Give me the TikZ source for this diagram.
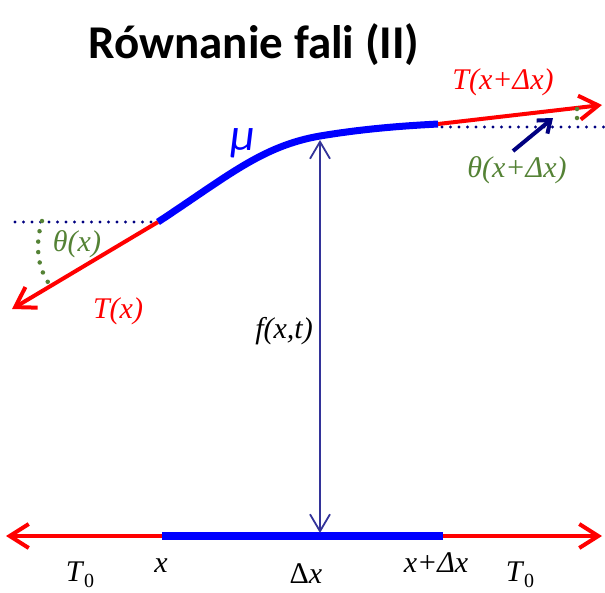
\documentclass[tikz,border=0pt]{standalone}
\usepackage{fontspec}
\setmainfont{Liberation Serif}
\newfontfamily\titlefont{Carlito}
\usetikzlibrary{arrows.meta}
\definecolor{myred}{RGB}{255,0,0}
\definecolor{myblue}{RGB}{0,0,255}
\definecolor{mynavy}{RGB}{0,0,128}
\definecolor{myslate}{RGB}{51,51,153}
\definecolor{mygreen}{RGB}{84,130,53}
\begin{document}
\begin{tikzpicture}[x=1pt,y=-1pt,
  forcearrow/.style={myred,line width=4pt,-{Straight Barb[length=19pt,width=24pt]}},
  stringline/.style={myblue,line width=7pt},
  levelline/.style={mynavy,line width=3.2pt,line cap=round,dash pattern=on 0pt off 8.5pt},
  angleline/.style={mygreen,line width=4.5pt,line cap=round,dash pattern=on 0pt off 10.5pt},
  lbl/.style={font=\fontsize{30}{32}\selectfont, anchor=base, inner sep=0pt},
]
\useasboundingbox (0,0) rectangle (605,592);

% title
\node[anchor=base, inner sep=0pt, font=\titlefont\bfseries\fontsize{47}{50}\selectfont] (title) at (254,58) {Równanie fali (II)};

% key points
\coordinate (L) at (158,222);
\coordinate (R) at (438,124);
\coordinate (LT) at (12,309);
\coordinate (RT) at (602,105);
\coordinate (Ldot0) at (15,222);
\coordinate (Rdot1) at (604,127);
\coordinate (Rdot0) at (442,127);

% forces on the curved string
\draw[forcearrow] (L) -- (LT);
\draw[forcearrow] (R) -- (RT);

% curved string element
\draw[stringline] (L) .. controls (228,176) and (262,146) .. (320,136)
                      .. controls (362,129) and (400,126) .. (R);

% horizontal reference lines
\draw[levelline] (Ldot0) -- (L);
\draw[levelline] (Rdot0) -- (Rdot1);

% angles
\coordinate (ga) at (42,221);
\coordinate (gb) at (50,285);
\draw[angleline] (ga) .. controls (35,244) and (37,268) .. (gb);
\coordinate (gc) at (577,109);
\coordinate (gd) at (577,127);
\draw[angleline, dash pattern=on 0pt off 9pt] (gc) -- (gd);

% small navy pointer
\coordinate (n1) at (513,151);
\coordinate (n2) at (553,118);
\draw[mynavy,line width=4pt,-{Straight Barb[length=11pt,width=17pt]}] (n1) -- (n2);

% bottom straight string
\coordinate (B0) at (6,536);
\coordinate (B1) at (162,536);
\coordinate (B2) at (443,536);
\coordinate (B3) at (602,536);
\draw[forcearrow] (B1) -- (B0);
\draw[forcearrow] (B2) -- (B3);
\draw[myblue,line width=7.5pt] (B1) -- (B2);

% displacement arrow
\coordinate (vt) at (320,140);
\coordinate (vb) at (320,533);
\draw[myslate,line width=1.8pt,{Straight Barb[length=17pt,width=20pt]}-{Straight Barb[length=17pt,width=20pt]}] (vt) -- (vb);

% labels
\node[lbl, text=mygreen] (thx) at (77,251) {\itshape θ(x)};
\node[lbl, text=myred] (tx) at (118,318) {\itshape T(x)};
\node[anchor=base, inner sep=0pt, text=myblue, font=\titlefont\itshape\fontsize{46}{48}\selectfont] (mu) at (243,150) {μ};
\node[lbl, text=myred] (txdx) at (503,89) {\itshape T(x+Δx)};
\node[lbl, text=mygreen] (thxdx) at (517,177) {\itshape θ(x+Δx)};
\node[lbl] (f) at (284,338) {\itshape f(x,t)};

\node[lbl] (T0a) at (80,581) {\textit{T}\raisebox{-6pt}{\fontsize{20}{20}\selectfont 0}};
\node[lbl] (xa) at (161,572) {\itshape x};
\node[lbl] (dx) at (306,583) {Δ\textit{x}};
\node[lbl] (xdx) at (436,572) {\itshape x+Δx};
\node[lbl] (T0b) at (520,581) {\textit{T}\raisebox{-6pt}{\fontsize{20}{20}\selectfont 0}};
\end{tikzpicture}
\end{document}
